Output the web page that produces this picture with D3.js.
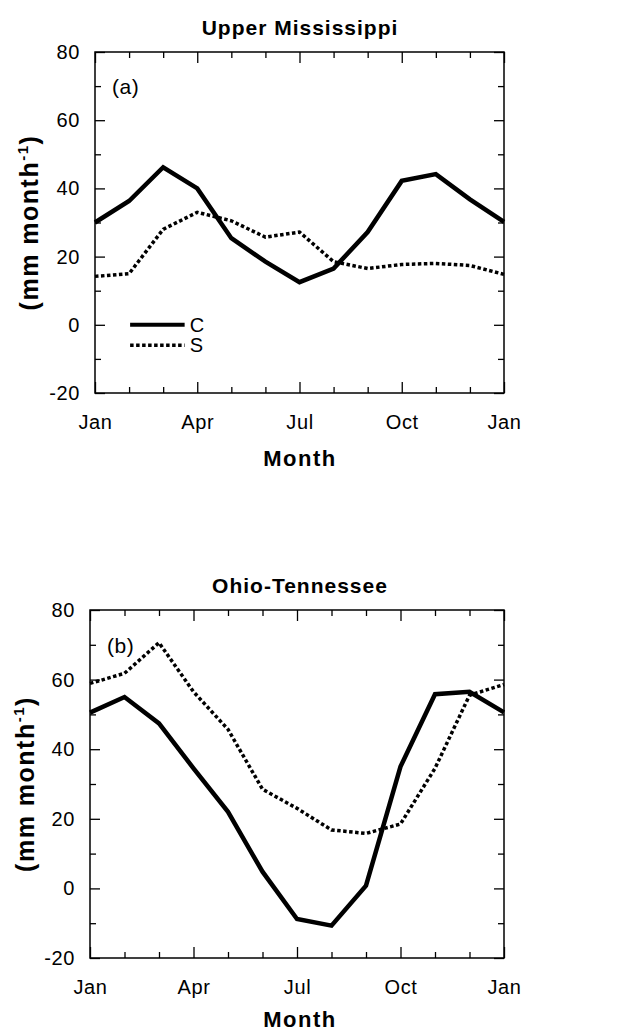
<!DOCTYPE html>
<html><head><meta charset="utf-8">
<script src="https://cdn.jsdelivr.net/npm/d3@7"></script>
<style>body{margin:0;background:#fff}</style>
</head><body><svg id="c" width="621" height="1031"></svg>
<script>
const monthIdx = [0,1,2,3,4,5,6,7,8,9,10,11,12];
const monthLabels = ["Jan","Apr","Jul","Oct","Jan"];
const monthLabelIdx = [0,3,6,9,12];
const yMajor = [-20,0,20,40,60,80];
const yMinor = [-10,10,30,50,70];
const umC = [30,36.3,46.2,40,25.4,18.5,12.5,16.5,27.2,42.2,44.2,36.8,30.2];
const umS = [14.2,15,28,33,30.5,25.7,27.2,18.5,16.5,17.7,18,17.4,14.8];
const otC = [50.5,55,47.4,34.5,22,4.8,-8.8,-10.7,0.8,35,55.8,56.5,50.6];
const otS = [58.9,61.8,70.6,56.5,45.7,28.5,23,16.8,15.8,18.5,34.5,55.5,58.6];
const panels = [
  {title:"Upper Mississippi", tag:"(a)", C:umC, S:umS, left:95, right:504, top:52, bottom:393, legend:true, ylx:38, mby:466},
  {title:"Ohio-Tennessee", tag:"(b)", C:otC, S:otS, left:90, right:504, top:610, bottom:958, legend:false, ylx:34, mby:1027}
];
const svg = d3.select("#c");
const FF = "'Liberation Sans', Arial, Helvetica, sans-serif";
panels.forEach(p => {
  const x = d3.scaleLinear().domain([0,12]).range([p.left,p.right]);
  const y = d3.scaleLinear().domain([-20,80]).range([p.bottom,p.top]);
  const g = svg.append("g");
  g.append("rect").attr("x",p.left).attr("y",p.top).attr("width",p.right-p.left).attr("height",p.bottom-p.top)
   .attr("fill","none").attr("stroke","#000").attr("stroke-width",1.5);
  const minorM = monthIdx.filter(m=>!monthLabelIdx.includes(m));
  function axisG(axis, tr){ const a=g.append("g").attr("transform",tr).call(axis); a.select(".domain").remove(); a.selectAll("line").attr("stroke","#000").attr("stroke-width",1.3); return a;}
  const xb = axisG(d3.axisBottom(x).tickValues(monthLabelIdx).tickSize(-11).tickPadding(22).tickFormat((d,i)=>monthLabels[i]), `translate(0,${p.bottom})`);
  xb.selectAll("text").attr("font-family",FF).attr("font-size",20).attr("letter-spacing",0.6).attr("fill","#000");
  axisG(d3.axisBottom(x).tickValues(minorM).tickSize(-6).tickFormat(""), `translate(0,${p.bottom})`);
  axisG(d3.axisTop(x).tickValues(monthLabelIdx).tickSize(-11).tickFormat(""), `translate(0,${p.top})`);
  axisG(d3.axisTop(x).tickValues(minorM).tickSize(-6).tickFormat(""), `translate(0,${p.top})`);
  const yl = axisG(d3.axisLeft(y).tickValues(yMajor).tickSize(-10).tickPadding(15).tickFormat(d=>String(d)), `translate(${p.left},0)`);
  yl.selectAll("text").attr("font-family",FF).attr("font-size",20).attr("letter-spacing",0.6).attr("fill","#000");
  axisG(d3.axisLeft(y).tickValues(yMinor).tickSize(-6).tickFormat(""), `translate(${p.left},0)`);
  axisG(d3.axisRight(y).tickValues(yMajor).tickSize(-10).tickFormat(""), `translate(${p.right},0)`);
  axisG(d3.axisRight(y).tickValues(yMinor).tickSize(-6).tickFormat(""), `translate(${p.right},0)`);
  const line = d3.line().x((d,i)=>x(i)).y(d=>y(d));
  g.append("path").datum(p.S).attr("d",line).attr("fill","none").attr("stroke","#000").attr("stroke-width",3.5).attr("stroke-dasharray","3.5,2.5");
  g.append("path").datum(p.C).attr("d",line).attr("fill","none").attr("stroke","#000").attr("stroke-width",4.5).attr("stroke-linejoin","miter");
  const cx = 300;
  g.append("text").attr("x",cx).attr("y",p.top-17).attr("text-anchor","middle").attr("font-family",FF).attr("font-weight","bold").attr("font-size",21).attr("letter-spacing",1).text(p.title);
  g.append("text").attr("x",cx).attr("y",p.mby).attr("text-anchor","middle").attr("font-family",FF).attr("font-weight","bold").attr("font-size",22).attr("letter-spacing",1.5).text("Month");
  const yt = g.append("text").attr("transform",`translate(${p.ylx},${(p.top+p.bottom)/2}) rotate(-90)`).attr("text-anchor","middle")
    .attr("font-family",FF).attr("font-weight","bold").attr("font-size",25).attr("letter-spacing",1.5);
  yt.append("tspan").text("(mm  month");
  yt.append("tspan").attr("font-size",15).attr("dy",-10).text("-1");
  yt.append("tspan").attr("dy",10).text(")");
  g.append("text").attr("x",x(0)+17).attr("y",y(70)+8).attr("font-family",FF).attr("font-size",21).attr("letter-spacing",0.5).text(p.tag);
  if (p.legend){
    const ly = [0,-6];
    const lx0 = x(1.03), lx1 = x(2.63);
    g.append("line").attr("x1",lx0).attr("x2",lx1).attr("y1",y(ly[0])).attr("y2",y(ly[0])).attr("stroke","#000").attr("stroke-width",4);
    g.append("line").attr("x1",lx0).attr("x2",lx1).attr("y1",y(ly[1])).attr("y2",y(ly[1])).attr("stroke","#000").attr("stroke-width",3.5).attr("stroke-dasharray","3.5,2.5");
    g.append("text").attr("x",lx1+5).attr("y",y(ly[0])+7).attr("font-family",FF).attr("font-size",20).text("C");
    g.append("text").attr("x",lx1+5).attr("y",y(ly[1])+7).attr("font-family",FF).attr("font-size",20).text("S");
  }
});
</script></body></html>
